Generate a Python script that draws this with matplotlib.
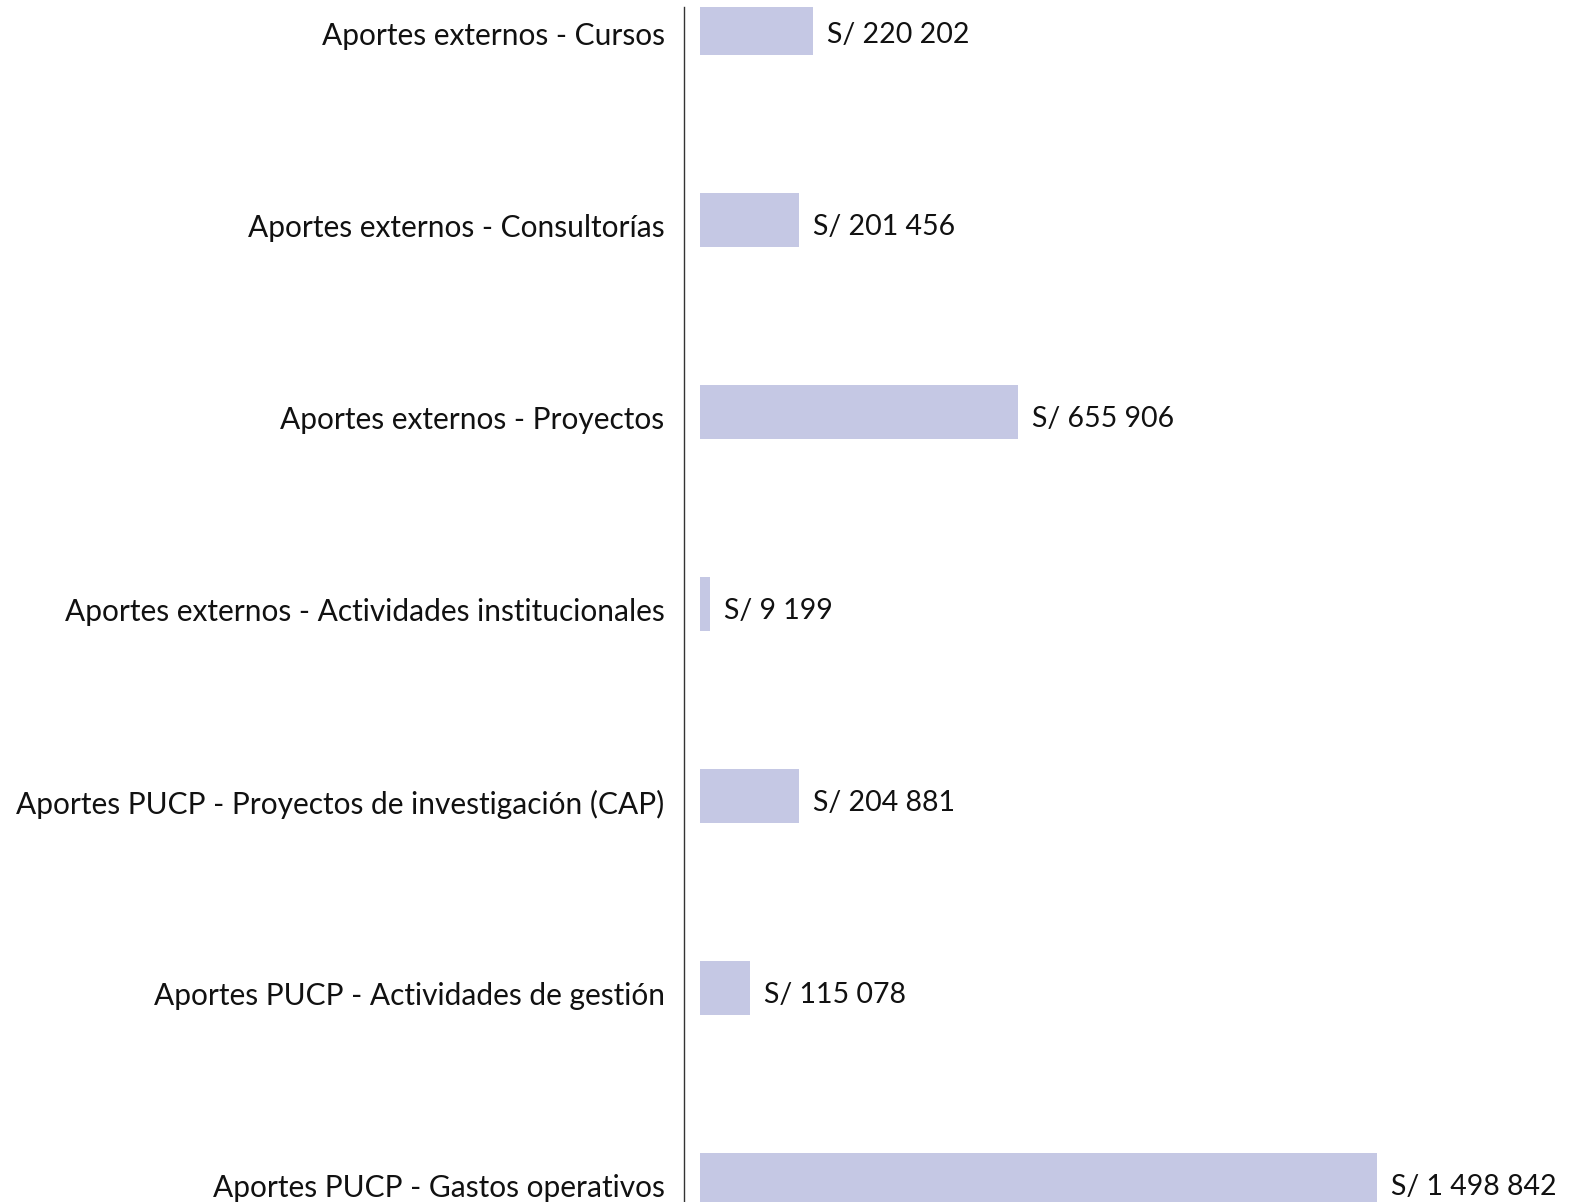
import matplotlib
matplotlib.use("Agg")
import matplotlib.pyplot as plt
import matplotlib.transforms as mtransforms

categories = [
    "Aportes externos - Cursos",
    "Aportes externos - Consultorías",
    "Aportes externos - Proyectos",
    "Aportes externos - Actividades institucionales",
    "Aportes PUCP - Proyectos de investigación (CAP)",
    "Aportes PUCP - Actividades de gestión",
    "Aportes PUCP - Gastos operativos",
]
# bar lengths as drawn in the reference (soles)
bar_values = [250000, 219000, 704000, 22000, 219000, 111000, 1498842]
# amounts printed next to each bar
value_labels = ["S/ 220 202", "S/ 201 456", "S/ 655 906", "S/ 9 199",
                "S/ 204 881", "S/ 115 078", "S/ 1 498 842"]

plt.rcParams["font.family"] = ["Lato", "DejaVu Sans"]

W, H = 1577, 1202
fig = plt.figure(figsize=(W / 100, H / 100), dpi=100)
# axes deliberately runs past the bottom edge: the last bar is cut off
ax = fig.add_axes([684 / W, 1 - 1210 / H, (W - 684) / W, (1210 - 7) / H])

y = list(range(len(categories)))
ax.barh(y, bar_values, height=0.28, color="#c5c8e4")
for yi, v, txt in zip(y, bar_values, value_labels):
    ax.annotate(txt, (v, yi), xytext=(10, -5), textcoords="offset points",
                va="center", ha="left", fontsize=20.5, color="#111111")

px = 1498842 / 677
ax.set_xlim(-16 * px, (W - 700) * px)
ax.set_ylim((1210 - 28) / 192, (7 - 28) / 192)
ax.set_yticks(y)
ax.set_yticklabels(categories, fontsize=21.5, color="#111111")
ax.tick_params(axis="y", length=0, pad=14)
shift = mtransforms.ScaledTranslation(0, -4 / 72, fig.dpi_scale_trans)
for lab in ax.get_yticklabels():
    lab.set_transform(lab.get_transform() + shift)
ax.set_xticks([])
for s in ("top", "right", "bottom"):
    ax.spines[s].set_visible(False)
ax.spines["left"].set_color("#333333")
ax.spines["left"].set_linewidth(1.0)

fig.savefig("out.png", dpi=100)
